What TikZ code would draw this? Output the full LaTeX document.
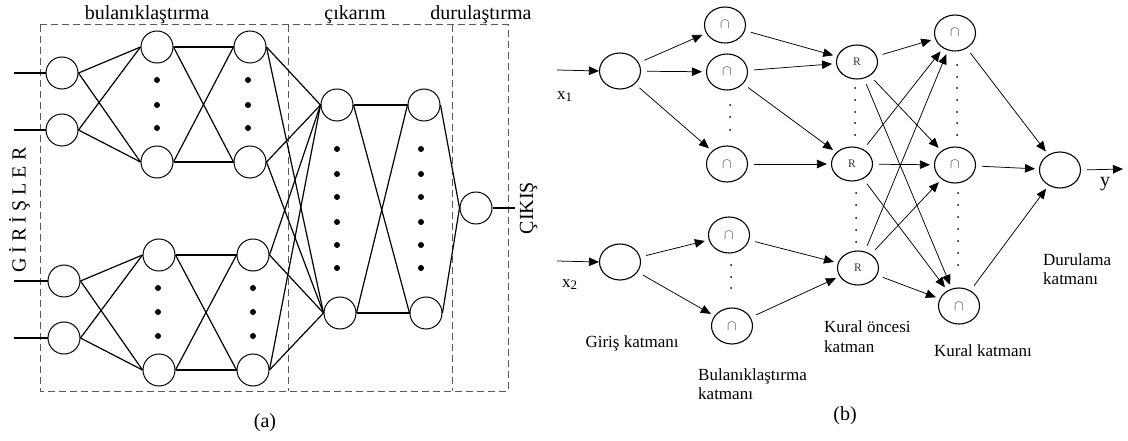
\documentclass[tikz,border=0pt]{standalone}
\usepackage{fontspec}
\setmainfont{Liberation Serif}
\usetikzlibrary{shapes.geometric,arrows.meta}
\begin{document}
\begin{tikzpicture}[x=1pt,y=-1pt,
  neuron/.style={circle,draw,line width=1pt,minimum size=32pt,inner sep=0pt},
  link/.style={line width=1.2pt},
  dashbox/.style={draw=black!65,line width=1pt,dash pattern=on 7pt off 4pt},
  biglab/.style={font=\fontsize{20}{24}\selectfont,inner sep=0pt},
  blab/.style={font=\fontsize{17}{19.5}\selectfont,inner sep=0pt},
  cell/.style={ellipse,draw,line width=1.1pt,inner sep=0pt,minimum width=41pt,minimum height=36pt},
  fuzz/.style={cell,font=\fontsize{14}{14}\selectfont,text=black!75},
  rnode/.style={cell,minimum height=34pt,font=\fontsize{11.5}{12}\selectfont,text=black!80},
  arr/.style={line width=0.75pt,-{Triangle[length=10pt,width=8.5pt]},shorten <=6pt,shorten >=4pt},
]
\useasboundingbox (0,0) rectangle (1128,441);

% ---------------- panel (a) ----------------
\draw[dashbox] (40,25) rectangle (508,391);
\draw[dashbox] (288,25) -- (288,391);
\draw[dashbox] (452,25) -- (452,391);

\node[biglab,anchor=base] (labbul) at (147,20) {bulanıklaştırma};
\node[biglab,anchor=base] (labcik) at (355,20) {çıkarım};
\node[biglab,anchor=base] (labdur) at (481,20) {durulaştırma};
\node[biglab,anchor=base,rotate=90] (labgir) at (25.5,210) {G İ R İ Ş L E R};
\node[biglab,anchor=base,rotate=90] (labcks) at (533,208) {ÇIKIŞ};
\node[biglab,anchor=base] (laba) at (265,427) {(a)};

\node[neuron] (in1) at (62,73) {};
\node[neuron] (in2) at (62,130) {};
\node[neuron] (in3) at (64,281) {};
\node[neuron] (in4) at (64,338) {};
\node[neuron] (a1) at (157,47) {};
\node[neuron] (a2) at (157,162) {};
\node[neuron] (a3) at (159,255) {};
\node[neuron] (a4) at (159,370) {};
\node[neuron] (b1) at (250,47) {};
\node[neuron] (b2) at (250,162) {};
\node[neuron] (b3) at (253,255) {};
\node[neuron] (b4) at (253,370) {};
\node[neuron] (c1) at (337,105) {};
\node[neuron] (c2) at (340,313) {};
\node[neuron] (d1) at (424,105) {};
\node[neuron] (d2) at (426,313) {};
\node[neuron] (o) at (476,208) {};

\coordinate (s1) at (14,73);
\coordinate (s2) at (14,130);
\coordinate (s3) at (14,281);
\coordinate (s4) at (14,338);
\coordinate (oend) at (515,208);
\draw[link] (s1) -- (in1.west);
\draw[link] (s2) -- (in2.west);
\draw[link] (s3) -- (in3.west);
\draw[link] (s4) -- (in4.west);
\draw[link] (o.east) -- (oend);

\foreach \s in {in1,in2} \foreach \t in {a1,a2} \draw[link] (\s.east) -- (\t.west);
\foreach \s in {in3,in4} \foreach \t in {a3,a4} \draw[link] (\s.east) -- (\t.west);
\foreach \s in {a1,a2} \foreach \t in {b1,b2} \draw[link] (\s.east) -- (\t.west);
\foreach \s in {a3,a4} \foreach \t in {b3,b4} \draw[link] (\s.east) -- (\t.west);
\foreach \s in {b1,b2,b3,b4} \foreach \t in {c1,c2} \draw[link] (\s.east) -- (\t.west);
\foreach \s in {c1,c2} \foreach \t in {d1,d2} \draw[link] (\s.east) -- (\t.west);
\foreach \s in {d1,d2} \draw[link] (\s.east) -- (o.west);

\foreach \y in {80,105,128} {\fill (157,\y) circle (3pt); \fill (248,\y) circle (3pt);}
\foreach \y in {288,312,336} {\fill (158,\y) circle (3pt); \fill (253,\y) circle (3pt);}
\foreach \y in {149,174,197,222,245,268} {\fill (337,\y) circle (3pt); \fill (421,\y) circle (3pt);}

% ---------------- panel (b) ----------------
\node[cell] (x1n) at (620,71) {};
\node[cell] (x2n) at (620,262) {};
\node[fuzz] (f1) at (725,25) {$\cap$};
\node[fuzz] (f2) at (727,72) {$\cap$};
\node[fuzz] (f3) at (727,164) {$\cap$};
\node[fuzz] (f4) at (729,235) {$\cap$};
\node[fuzz] (f5) at (732,326) {$\cap$};
\node[rnode] (r1) at (857,62) {R};
\node[rnode] (r2) at (852,164) {R};
\node[rnode] (r3) at (858,268) {R};
\node[fuzz] (k1) at (955,33) {$\cap$};
\node[fuzz] (k2) at (955,165) {$\cap$};
\node[fuzz] (k3) at (959,306) {$\cap$};
\node[cell] (out) at (1060,170) {};

\coordinate (x1s) at (557,70);
\coordinate (x2s) at (557,261);
\coordinate (ye) at (1123,169);
\draw[arr,shorten <=0pt,shorten >=0pt] (x1s) -- (x1n.west);
\draw[arr,shorten <=0pt,shorten >=0pt] (x2s) -- (x2n.west);
\draw[arr,shorten >=0pt] (out.east) -- (ye);

\foreach \t in {f1,f2,f3} \draw[arr] (x1n) -- (\t);
\foreach \t in {f4,f5} \draw[arr] (x2n) -- (\t);
\draw[arr] (f1) -- (r1);
\draw[arr] (f2) -- (r1);
\draw[arr] (f2) -- (r2);
\draw[arr] (f3) -- (r2);
\draw[arr] (f4) -- (r3);
\draw[arr] (f5) -- (r3);
\foreach \s in {r1,r2,r3} \foreach \t in {k1,k2,k3} \draw[arr] (\s) -- (\t);
\foreach \s in {k1,k2,k3} \draw[arr] (\s) -- (out);

\foreach \y in {105,117,130} \fill (730,\y) circle (1pt);
\foreach \y in {265,277,288} \fill (731,\y) circle (1pt);
\foreach \y in {88,100,112,123,135} \fill (855,\y) circle (1pt);
\foreach \y in {193,205,218,230,242} \fill (856,\y) circle (1pt);
\foreach \y in {65,77,88,100,112,123,135} \fill (957,\y) circle (1pt);
\foreach \y in {193,205,217,229,241,253,265} \fill (958,\y) circle (1pt);

\node[blab,anchor=base west] (lx1) at (557,100) {x{\fontsize{13}{13}\selectfont\raisebox{-2pt}{1}}};
\node[blab,anchor=base west] (lx2) at (562,287) {x{\fontsize{13}{13}\selectfont\raisebox{-2pt}{2}}};
\node[biglab,anchor=base west] (ly) at (1100,187) {y};
\node[blab,anchor=base] (lgir) at (632,347) {Giriş katmanı};
\node[blab,anchor=base west] (lbul1) at (698,380) {Bulanıklaştırma};
\node[blab,anchor=base west] (lbul2) at (698,399) {katmanı};
\node[blab,anchor=base west] (lkon1) at (824,332) {Kural öncesi};
\node[blab,anchor=base west] (lkon2) at (824,352) {katman};
\node[blab,anchor=base] (lkur) at (983,356) {Kural katmanı};
\node[blab,anchor=base west] (ldur1) at (1043,265) {Durulama};
\node[blab,anchor=base west] (ldur2) at (1043,284) {katmanı};
\node[biglab,anchor=base] (labb) at (845,420) {(b)};
\end{tikzpicture}
\end{document}
